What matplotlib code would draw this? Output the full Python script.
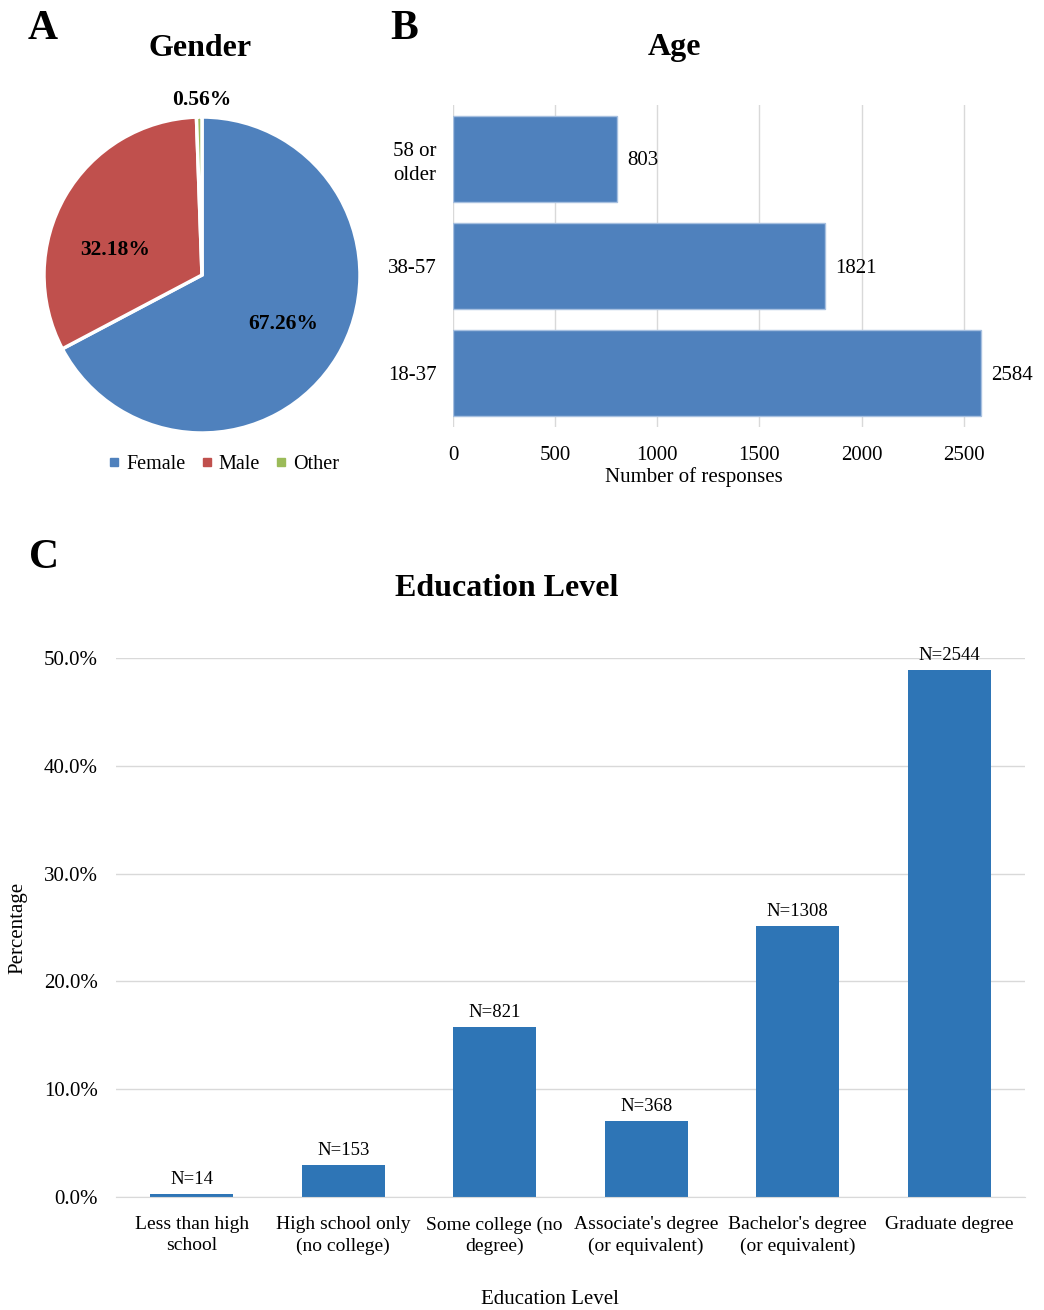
import matplotlib.pyplot as plt
from matplotlib.lines import Line2D

plt.rcParams['font.family'] = ['Liberation Serif', 'DejaVu Serif']

# data
gender_labels = ['Female', 'Male', 'Other']
gender_pct = [67.26, 32.18, 0.56]
gender_colors = ['#4F81BD', '#C0504D', '#9BBB59']

age_groups = ['18-37', '38-57', '58 or\nolder']
age_counts = [2584, 1821, 803]

edu_levels = ['Less than high\nschool', 'High school only\n(no college)', 'Some college (no\ndegree)',
              "Associate's degree\n(or equivalent)", "Bachelor's degree\n(or equivalent)", 'Graduate degree']
edu_pct = [0.27, 2.94, 15.76, 7.07, 25.12, 48.85]
edu_n = [14, 153, 821, 368, 1308, 2544]

W, H = 1044, 1310
fig = plt.figure(figsize=(W / 100, H / 100), dpi=100)

# ---- A: gender pie
axA = fig.add_axes([44 / W, 1 - 433 / H, 316 / W, 316 / H])
wedges, texts, autotexts = axA.pie(gender_pct, colors=gender_colors, startangle=90, counterclock=False,
                                   autopct='%.2f%%', pctdistance=0.6,
                                   wedgeprops=dict(edgecolor='white', linewidth=2.5),
                                   textprops=dict(fontsize=15.5, fontweight='bold'))
autotexts[1].set_position((-0.55, 0.16))
autotexts[2].set_position((0, 1.11))
axA.set_xlim(-1, 1)
axA.set_ylim(-1, 1)
handles = [Line2D([], [], marker='s', linestyle='', color=c, markersize=6) for c in gender_colors]
axA.legend(handles, gender_labels, loc='center', bbox_to_anchor=(0.57, -0.10), ncol=3, frameon=False,
           fontsize=14.5, handlelength=0.5, handletextpad=0.35, columnspacing=0.8)
fig.text(200 / W, 1 - 48 / H, 'Gender', ha='center', va='center', fontsize=23, fontweight='bold')

# ---- B: age bars
axB = fig.add_axes([453 / W, 1 - 427 / H, 572 / W, 322 / H])
ypos = range(len(age_groups))
axB.barh(ypos, age_counts, height=0.8, color='#4F81BD', edgecolor='#A7C0E0', linewidth=1, zorder=2)
for y, v in zip(ypos, age_counts):
    axB.text(v + 52, y - 0.02, str(v), va='center', ha='left', fontsize=15)
axB.set_yticks(list(ypos))
axB.set_yticklabels(age_groups, fontsize=15, linespacing=1.35)
axB.set_ylim(-0.5, 2.5)
axB.set_xlim(0, 2800)
axB.set_xticks([0, 500, 1000, 1500, 2000, 2500])
axB.tick_params(axis='x', labelsize=15, length=0, pad=14)
axB.tick_params(axis='y', length=0, pad=12)
axB.grid(axis='x', color='#D9D9D9', linewidth=1, zorder=0)
for s in axB.spines.values():
    s.set_visible(False)
fig.text(694 / W, 1 - 477 / H, 'Number of responses', ha='center', va='center', fontsize=15)
fig.text(675 / W, 1 - 48 / H, 'Age', ha='center', va='center', fontsize=23, fontweight='bold')

# ---- C: education bars
axC = fig.add_axes([116 / W, 1 - 1197 / H, 909 / W, 539 / H])
xpos = range(len(edu_levels))
axC.bar(xpos, edu_pct, width=0.55, color='#2E75B6', zorder=2)
for x, v, n in zip(xpos, edu_pct, edu_n):
    axC.text(x, v + 0.55, 'N=%d' % n, ha='center', va='bottom', fontsize=13.5, clip_on=False)
axC.set_xlim(-0.5, 5.5)
axC.set_ylim(0, 50)
axC.set_yticks([0, 10, 20, 30, 40, 50])
axC.set_yticklabels(['%.1f%%' % t for t in [0, 10, 20, 30, 40, 50]], fontsize=15)
axC.set_xticks(list(xpos))
axC.set_xticklabels(edu_levels, fontsize=14, linespacing=1.3)
axC.tick_params(length=0)
axC.tick_params(axis='x', pad=14)
axC.tick_params(axis='y', pad=13)
axC.grid(axis='y', color='#D9D9D9', linewidth=1, zorder=0)
for s in ['top', 'right', 'left']:
    axC.spines[s].set_visible(False)
axC.spines['bottom'].set_color('#D9D9D9')
axC.set_ylabel('Percentage', fontsize=15, labelpad=12)
fig.text(550 / W, 1 - 1300 / H, 'Education Level', ha='center', va='center', fontsize=15)
fig.text(507 / W, 1 - 588 / H, 'Education Level', ha='center', va='center', fontsize=23, fontweight='bold')

# panel letters
fig.text(43 / W, 1 - 29 / H, 'A', ha='center', va='center', fontsize=30, fontweight='bold')
fig.text(404 / W, 1 - 29 / H, 'B', ha='center', va='center', fontsize=30, fontweight='bold')
fig.text(44 / W, 1 - 558 / H, 'C', ha='center', va='center', fontsize=30, fontweight='bold')

fig.savefig('out.png', dpi=100)
